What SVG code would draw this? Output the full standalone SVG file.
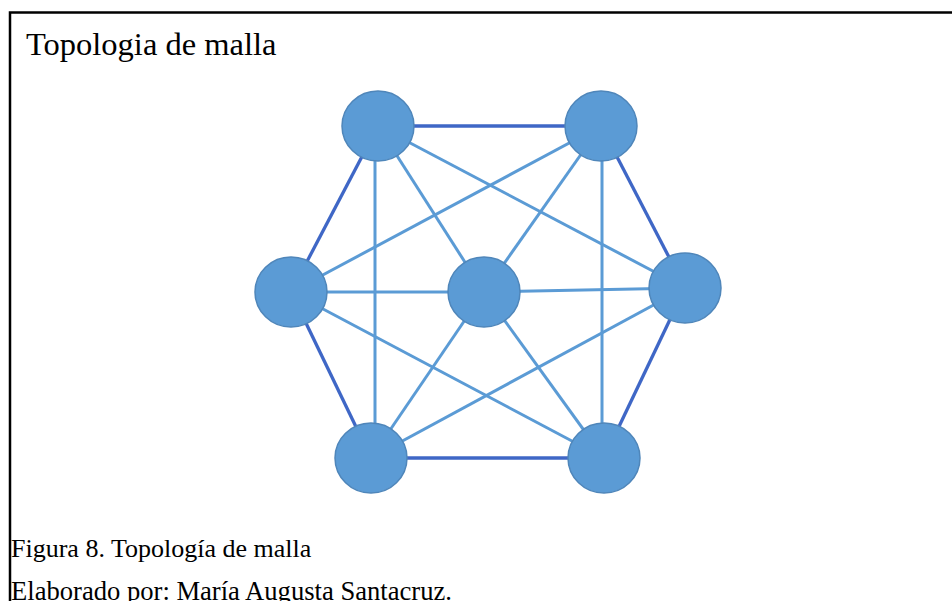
<svg xmlns="http://www.w3.org/2000/svg" width="952" height="601" viewBox="0 0 952 601">
  <style>
    .frame { stroke: #000; stroke-width: 2.5; fill: none; }
    .ring { stroke: #3F67C6; stroke-width: 3.3; fill: none; }
    .mesh { stroke: #5B9BD5; stroke-width: 3; fill: none; }
    .node ellipse { fill: #5B9BD5; stroke: #4F86BA; stroke-width: 1.5; }
  </style>

  <rect width="952" height="601" fill="#fff"/>

  <!-- open frame: top rule and left rule only -->
  <path class="frame" d="M10 601 V12.5 H952"/>

  <text x="26" y="55" font-family="Liberation Serif, DejaVu Serif, serif" font-size="32.5" fill="#000">Topologia de malla</text>

  <g id="connectors">
    <!-- outer hexagon -->
    <line class="ring" x1="378" y1="126" x2="601" y2="126"/>
    <line class="ring" x1="601" y1="126" x2="685" y2="288"/>
    <line class="ring" x1="685" y1="288" x2="604" y2="458"/>
    <line class="ring" x1="604" y1="458" x2="371" y2="458"/>
    <line class="ring" x1="371" y1="458" x2="291" y2="292"/>
    <line class="ring" x1="291" y1="292" x2="378" y2="126"/>
    <!-- spokes to the centre node -->
    <line class="mesh" x1="378" y1="126" x2="484" y2="292"/>
    <line class="mesh" x1="601" y1="126" x2="484" y2="292"/>
    <line class="mesh" x1="291" y1="292" x2="484" y2="292"/>
    <line class="mesh" x1="685" y1="288" x2="484" y2="292"/>
    <line class="mesh" x1="371" y1="458" x2="484" y2="292"/>
    <line class="mesh" x1="604" y1="458" x2="484" y2="292"/>
    <!-- verticals -->
    <line class="mesh" x1="375" y1="126" x2="375" y2="458"/>
    <line class="mesh" x1="602" y1="126" x2="602" y2="458"/>
    <!-- diagonals -->
    <line class="mesh" x1="378" y1="126" x2="685" y2="288"/>
    <line class="mesh" x1="601" y1="126" x2="291" y2="292"/>
    <line class="mesh" x1="291" y1="292" x2="604" y2="458"/>
    <line class="mesh" x1="685" y1="288" x2="371" y2="458"/>
  </g>

  <g id="node-top-left" class="node"><ellipse cx="378" cy="126" rx="36" ry="35"/></g>
  <g id="node-top-right" class="node"><ellipse cx="601" cy="126" rx="36" ry="35"/></g>
  <g id="node-left" class="node"><ellipse cx="291" cy="292" rx="36" ry="35"/></g>
  <g id="node-center" class="node"><ellipse cx="484" cy="292" rx="36" ry="35"/></g>
  <g id="node-right" class="node"><ellipse cx="685" cy="288" rx="36" ry="35"/></g>
  <g id="node-bottom-left" class="node"><ellipse cx="371" cy="458" rx="36" ry="35"/></g>
  <g id="node-bottom-right" class="node"><ellipse cx="604" cy="458" rx="36" ry="35"/></g>

  <text x="11" y="557" font-family="Liberation Serif, DejaVu Serif, serif" font-size="26" fill="#000">Figura 8. Topología de malla</text>
  <text x="11" y="600" font-family="Liberation Serif, DejaVu Serif, serif" font-size="26.6" fill="#000">Elaborado por: María Augusta Santacruz.</text>
</svg>
